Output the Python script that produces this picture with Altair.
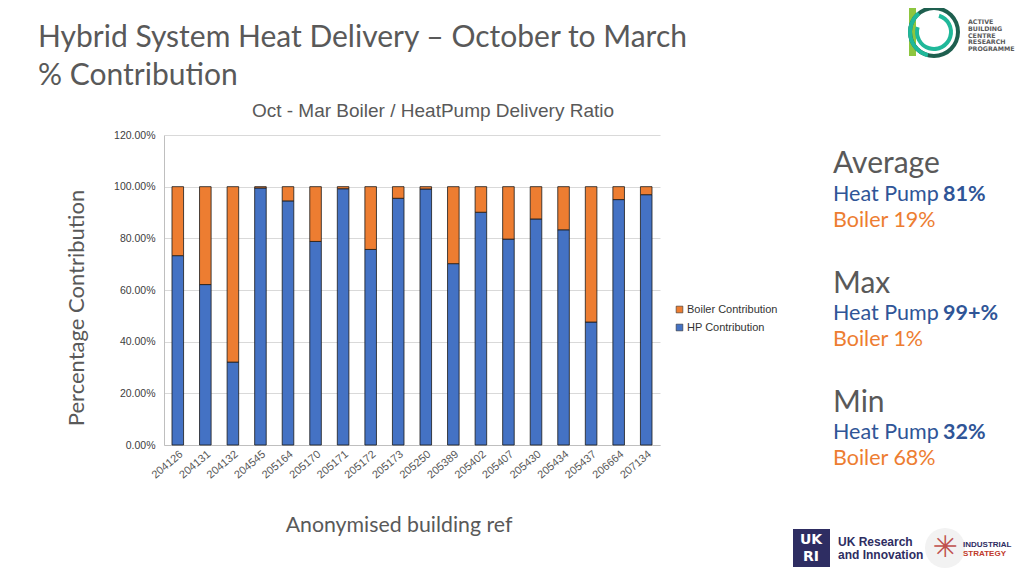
import altair as alt
import pandas as pd

buildings = ["204126", "204131", "204132", "204545", "205164", "205170", "205171", "205172",
             "205173", "205250", "205389", "205402", "205407", "205430", "205434", "205437",
             "206664", "207134"]
hp_share = [0.733, 0.621, 0.321, 0.995, 0.945, 0.788, 0.992, 0.757, 0.955, 0.991,
            0.702, 0.901, 0.797, 0.875, 0.833, 0.476, 0.950, 0.969]
boiler_share = [round(1 - v, 3) for v in hp_share]
series = ["Boiler Contribution", "HP Contribution"]
colors = ["#ED7D31", "#4472C4"]
y_ticks = [0, 0.2, 0.4, 0.6, 0.8, 1.0, 1.2]

rows = []
for b, hp, bo in zip(buildings, hp_share, boiler_share):
    rows.append({"ref": b, "series": "HP Contribution", "value": hp, "ord": 0})
    rows.append({"ref": b, "series": "Boiler Contribution", "value": bo, "ord": 1})
df = pd.DataFrame(rows)

W, H = 496, 310
OX, OY = 164, 135  # page coords of plot origin

GRAY = "#595959"
BLUE = "#2F5597"
ORANGE = "#ED7D31"

bars = alt.Chart(df).mark_bar(stroke="#1a1a1a", strokeWidth=0.8).encode(
    x=alt.X("ref:N", sort=buildings,
            scale=alt.Scale(paddingInner=0.58, paddingOuter=0.29),
            axis=alt.Axis(title=None, labelAngle=-40, labelFontSize=11, labelColor=GRAY,
                          labelFont="Liberation Sans", ticks=False, domainColor="#BFBFBF",
                          labelPadding=3, grid=False)),
    y=alt.Y("value:Q", stack="zero", scale=alt.Scale(domain=[0, 1.2], nice=False),
            axis=alt.Axis(title=None, values=y_ticks, format=".2%", labelFontSize=10.5,
                          labelColor="#404040", labelFont="Liberation Sans", ticks=False,
                          domainColor="#BFBFBF", gridColor="#D9D9D9", labelPadding=9)),
    color=alt.Color("series:N", scale=alt.Scale(domain=series, range=colors),
                    legend=alt.Legend(title=None, orient="none", legendX=510, legendY=169,
                                      symbolType="square", symbolSize=45,
                                      symbolStrokeColor="#333333", symbolStrokeWidth=0.6,
                                      labelFontSize=11, labelFont="Liberation Sans",
                                      labelColor="#333333", rowPadding=6, labelOffset=2,
                                      symbolOffset=0)),
    order=alt.Order("ord:Q"),
)


def txt(s, px, py, size, color=GRAY, font="Lato", weight="normal", align="left",
        baseline="middle", angle=0):
    return alt.Chart(pd.DataFrame({"t": [s]})).mark_text(
        fontSize=size, color=color, font=font, fontWeight=weight, align=align,
        baseline=baseline, angle=angle
    ).encode(x=alt.value(px - OX), y=alt.value(py - OY), text="t:N")


def arc(cx, cy, r1, r2, t1, t2, color):
    return alt.Chart(pd.DataFrame({"a": [0]})).mark_arc(
        radius=r1, radius2=r2, theta=t1, theta2=t2, color=color
    ).encode(x=alt.value(cx - OX), y=alt.value(cy - OY))


def box(x1, y1, x2, y2, color):
    return alt.Chart(pd.DataFrame({"a": [0]})).mark_rect(color=color).encode(
        x=alt.value(x1 - OX), x2=alt.value(x2 - OX), y=alt.value(y1 - OY), y2=alt.value(y2 - OY))


layers = [
    bars,
    txt("Hybrid System Heat Delivery – October to March", 38, 38, 30),
    txt("% Contribution", 38, 76, 30),
    txt("Oct - Mar Boiler / HeatPump Delivery Ratio", 433, 111, 19, font="Liberation Sans",
        align="center"),
    txt("Percentage  Contribution", 77, 308, 22, align="center", angle=270),
    txt("Anonymised building ref", 399, 526, 21.3, align="center"),
    txt("Average", 833, 164, 30),
    txt("Heat Pump", 833, 195, 21.5, color=BLUE),
    txt("81%", 943, 195, 21.5, color=BLUE, weight="bold"),
    txt("Boiler 19%", 833, 221, 21.5, color=ORANGE),
    txt("Max", 833, 284, 30),
    txt("Heat Pump", 833, 314, 21.5, color=BLUE),
    txt("99+%", 943, 314, 21.5, color=BLUE, weight="bold"),
    txt("Boiler 1%", 833, 340, 21.5, color=ORANGE),
    txt("Min", 833, 403, 30),
    txt("Heat Pump", 833, 433, 21.5, color=BLUE),
    txt("32%", 943, 433, 21.5, color=BLUE, weight="bold"),
    txt("Boiler 68%", 833, 459, 21.5, color=ORANGE),
    # Active Building Centre logo
    box(909, 7, 916, 56, "#8DC63F"),
    arc(934, 32, 22, 26, 0, 6.2832, "#1E5F4F"),
    arc(934, 32, 22, 26, 3.4, 5.6, "#20B89A"),
    arc(934, 32, 15, 19, 0.3, 5.0, "#20B89A"),
    txt("ACTIVE", 968, 22, 6.3, color="#5a5a5a", font="DejaVu Sans", weight="bold"),
    txt("BUILDING", 968, 29, 6.3, color="#5a5a5a", font="DejaVu Sans", weight="bold"),
    txt("CENTRE", 968, 35.5, 6.3, color="#5a5a5a", font="DejaVu Sans", weight="bold"),
    txt("RESEARCH", 968, 42, 6.3, color="#5a5a5a", font="DejaVu Sans", weight="bold"),
    txt("PROGRAMME", 968, 48.5, 6.3, color="#5a5a5a", font="DejaVu Sans", weight="bold"),
    # UKRI logo
    box(793, 529, 830, 567, "#2E2D62"),
    txt("UK", 811, 540, 14, color="white", font="DejaVu Sans", weight="bold", align="center"),
    txt("RI", 811, 557, 14, color="white", font="DejaVu Sans", weight="bold", align="center"),
    txt("UK Research", 838, 542, 12, color="#2E2D62", font="Liberation Sans", weight="bold"),
    txt("and Innovation", 838, 555, 12, color="#2E2D62", font="Liberation Sans", weight="bold"),
    arc(945, 548, 0, 20, 0, 6.2832, "#f2f2f2"),
    txt("✳", 945, 548, 30, color="#C0504D", font="DejaVu Sans", align="center"),
    txt("INDUSTRIAL", 963, 545, 8, color="#2E2D62", font="Liberation Sans", weight="bold"),
    txt("STRATEGY", 963, 554, 8, color="#C0392B", font="Liberation Sans", weight="bold"),
]

chart = alt.layer(*layers).properties(
    width=W, height=H,
    autosize=alt.AutoSizeParams(type="none"),
    padding={"left": OX - 8, "top": OY - 8, "right": 1016 - OX - W, "bottom": 568 - OY - H},
    background="white",
).configure_view(stroke=None)

chart.save("out.html", embed_options={"renderer": "svg", "actions": False})
